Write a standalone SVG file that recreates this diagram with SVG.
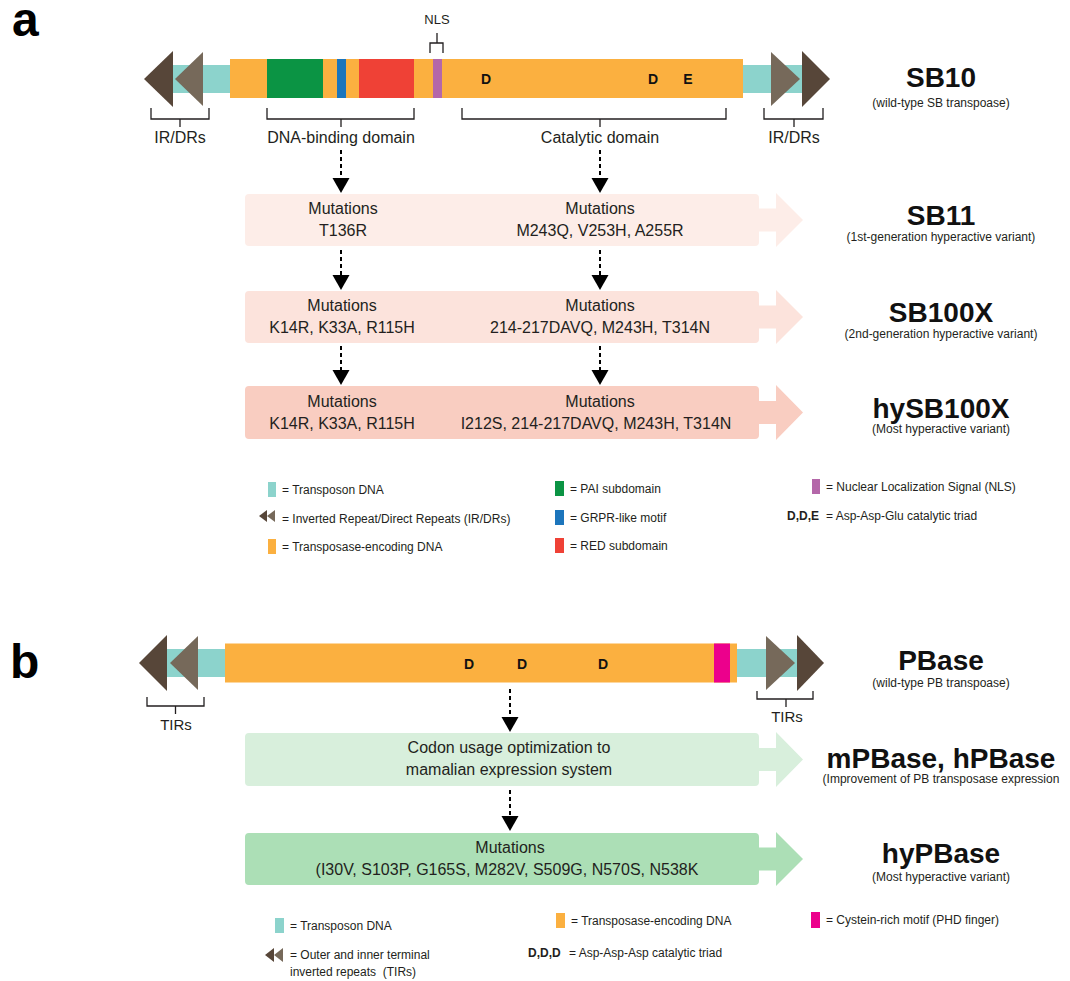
<svg xmlns="http://www.w3.org/2000/svg" width="1070" height="981" viewBox="0 0 1070 981">
<defs>
<style>
text{font-family:"Liberation Sans",Arial,sans-serif;fill:#231f20}
.lbl{font-size:16px;text-anchor:middle}
.big{font-size:28px;font-weight:bold;text-anchor:middle;fill:#111}
.sub{font-size:12px;text-anchor:middle}
.leg{font-size:12px}
.legb{font-size:12px}
.res{font-size:14px;font-weight:bold;text-anchor:middle;fill:#111}
.panel{font-size:48px;font-weight:bold;fill:#000}
.br{fill:none;stroke:#231f20;stroke-width:1.3}
.dash{stroke:#000;stroke-width:2;stroke-dasharray:4 3;fill:none}
.ird{fill:#574639}
.irl{fill:#76695a}
.teal{fill:#8cd3cc}
.orange{fill:#fbb040}
</style>
<polygon id="ah" points="-8.5,0 8.5,0 0,15" fill="#000"/>
</defs>
<rect width="1070" height="981" fill="#fff"/>

<text class="panel" x="12" y="36">a</text>
<text class="panel" x="10" y="678">b</text>

<!-- SB10 bar -->
<g id="sb10-bar">
<rect class="teal" x="170" y="65" width="60" height="28"/>
<rect class="teal" x="743" y="65" width="60" height="28"/>
<rect class="orange" x="230" y="59" width="513" height="39"/>
<rect x="267" y="59" width="56" height="39" fill="#0b9444"/>
<rect x="337" y="59" width="9" height="39" fill="#1c75bc"/>
<rect x="359" y="59" width="55" height="39" fill="#ef4136"/>
<rect x="433" y="59" width="9" height="39" fill="#b467a9"/>
<polygon class="ird" points="144,79 173,51 173,107"/>
<polygon class="irl" points="175,79 203,52 203,106"/>
<polygon class="irl" points="771,52 800,79 771,106"/>
<polygon class="ird" points="802,51 830,79 802,107"/>
<text class="res" x="486" y="84">D</text>
<text class="res" x="653" y="84">D</text>
<text class="res" x="688" y="84">E</text>
<path class="br" d="M151,108 V119 H209 V108 M180,119 V127 M267,108 V119 H414 V108 M341,119 V127 M462,108 V119 H726 V108 M600,119 V127 M764,108 V119 H823 V108 M794,119 V127 M430,53 V43 H443 V53 M437,43 V33"/>
<text class="lbl" x="437" y="24" style="font-size:13px">NLS</text>
<text class="lbl" x="180" y="143">IR/DRs</text>
<text class="lbl" x="341" y="143">DNA-binding domain</text>
<text class="lbl" x="600" y="143">Catalytic domain</text>
<text class="lbl" x="794" y="143">IR/DRs</text>
</g>
<g id="sb10-label">
<text class="big" x="941" y="87">SB10</text>
<text class="sub" x="941" y="107">(wild-type SB transpoase)</text>
</g>

<g id="sb11">
<path fill="#fdede8" d="M249,194 H755 Q759,194 759,198 V208.5 H776 V193 L803,220 L776,247 V231.5 H759 V242 Q759,246 755,246 H249 Q245,246 245,242 V198 Q245,194 249,194 Z"/>
<text class="lbl" x="343" y="214">Mutations</text>
<text class="lbl" x="343" y="236">T136R</text>
<text class="lbl" x="600" y="214">Mutations</text>
<text class="lbl" x="600" y="236">M243Q, V253H, A255R</text>
<text class="big" x="941" y="225">SB11</text>
<text class="sub" x="941" y="241">(1st-generation hyperactive variant)</text>
</g>

<g id="sb100x">
<path fill="#fce3dc" d="M249,291 H755 Q759,291 759,295 V305.5 H776 V290 L803,317 L776,344 V328.5 H759 V339 Q759,343 755,343 H249 Q245,343 245,339 V295 Q245,291 249,291 Z"/>
<text class="lbl" x="342" y="311">Mutations</text>
<text class="lbl" x="342" y="333">K14R, K33A, R115H</text>
<text class="lbl" x="600" y="311">Mutations</text>
<text class="lbl" x="600" y="333">214-217DAVQ, M243H, T314N</text>
<text class="big" x="941" y="322">SB100X</text>
<text class="sub" x="941" y="338">(2nd-generation hyperactive variant)</text>
</g>

<g id="hysb100x">
<path fill="#f9cdc1" d="M249,386 H755 Q759,386 759,390 V401 H776 V385 L803,412.5 L776,440 V424 H759 V435 Q759,439 755,439 H249 Q245,439 245,435 V390 Q245,386 249,386 Z"/>
<text class="lbl" x="342" y="407">Mutations</text>
<text class="lbl" x="342" y="429">K14R, K33A, R115H</text>
<text class="lbl" x="600" y="407">Mutations</text>
<text class="lbl" x="596" y="429">I212S, 214-217DAVQ, M243H, T314N</text>
<text class="big" x="941" y="418">hySB100X</text>
<text class="sub" x="941" y="433">(Most hyperactive variant)</text>
</g>

<!-- PBase bar -->
<g id="pbase-bar">
<rect class="teal" x="166" y="649" width="60" height="28"/>
<rect class="teal" x="737" y="649" width="63" height="28"/>
<rect class="orange" x="225" y="643.5" width="512" height="39"/>
<rect x="714" y="643.5" width="16" height="39" fill="#ec008c"/>
<polygon class="ird" points="139,663 167,635 167,691"/>
<polygon class="irl" points="170,663 198,636 198,690"/>
<polygon class="irl" points="766,636 795,663 766,690"/>
<polygon class="ird" points="797,635 824,663 797,691"/>
<text class="res" x="469" y="669">D</text>
<text class="res" x="522" y="669">D</text>
<text class="res" x="603" y="669">D</text>
<path class="br" d="M147,697 V706 H204 V697 M175.5,706 V714 M757,691 V699 H813 V691 M786,699 V707"/>
<text class="lbl" x="176" y="730" style="font-size:15px">TIRs</text>
<text class="lbl" x="787" y="722" style="font-size:15px">TIRs</text>
</g>
<g id="pbase-label">
<text class="big" x="941" y="670">PBase</text>
<text class="sub" x="941" y="687">(wild-type PB transpoase)</text>
</g>

<g id="mpbase">
<path fill="#d8efdc" d="M249,733 H755 Q759,733 759,737 V748 H776 V732 L803,759.5 L776,787 V771 H759 V782 Q759,786 755,786 H249 Q245,786 245,782 V737 Q245,733 249,733 Z"/>
<text class="lbl" x="509" y="753">Codon usage optimization to</text>
<text class="lbl" x="509" y="775">mamalian expression system</text>
<text class="big" x="941" y="768">mPBase, hPBase</text>
<text class="sub" x="941" y="783">(Improvement of PB transposase expression</text>
</g>

<g id="hypbase">
<path fill="#acdfb6" d="M249,833 H755 Q759,833 759,837 V847.5 H776 V832 L803,859 L776,886 V870.5 H759 V881 Q759,885 755,885 H249 Q245,885 245,881 V837 Q245,833 249,833 Z"/>
<text class="lbl" x="510" y="853">Mutations</text>
<text class="lbl" x="507" y="875">(I30V, S103P, G165S, M282V, S509G, N570S, N538K</text>
<text class="big" x="941" y="863">hyPBase</text>
<text class="sub" x="941" y="881">(Most hyperactive variant)</text>
</g>

<g id="connectors">
<path class="dash" d="M341,150 V178 M600,150 V178 M341,250 V275 M600,250 V275 M341,346 V370 M600,346 V370 M510,689 V717 M510,790 V816"/>
<use href="#ah" x="341" y="178"/>
<use href="#ah" x="600" y="178"/>
<use href="#ah" x="341" y="275"/>
<use href="#ah" x="600" y="275"/>
<use href="#ah" x="341" y="370"/>
<use href="#ah" x="600" y="370"/>
<use href="#ah" x="510" y="717"/>
<use href="#ah" x="510" y="816"/>
</g>

<g id="legend-a">
<rect class="teal" x="268" y="482" width="8" height="15"/>
<text class="leg" x="282" y="494">= Transposon DNA</text>
<polygon class="ird" points="259,516 267,510 267,522"/>
<polygon class="irl" points="267,516 275,510 275,522"/>
<text class="leg" x="282" y="523">= Inverted Repeat/Direct Repeats (IR/DRs)</text>
<rect class="orange" x="268" y="539" width="8" height="15"/>
<text class="leg" x="282" y="551">= Transposase-encoding DNA</text>
<rect x="555" y="481" width="9" height="15" fill="#0b9444"/>
<text class="leg" x="570" y="493">= PAI subdomain</text>
<rect x="555" y="510" width="9" height="15" fill="#1c75bc"/>
<text class="leg" x="570" y="522">= GRPR-like motif</text>
<rect x="555" y="538" width="9" height="15" fill="#ef4136"/>
<text class="leg" x="570" y="550">= RED subdomain</text>
<rect x="812" y="479" width="8" height="15" fill="#b467a9"/>
<text class="leg" x="826" y="491">= Nuclear Localization Signal (NLS)</text>
<text class="leg" x="787" y="520" style="font-weight:bold">D,D,E</text>
<text class="leg" x="826" y="520">= Asp-Asp-Glu catalytic triad</text>
</g>

<g id="legend-b">
<rect class="teal" x="275" y="918" width="9" height="15"/>
<text class="legb" x="290" y="930">= Transposon DNA</text>
<polygon class="ird" points="265,955 274,948 274,962"/>
<polygon class="irl" points="274,955 283,948 283,962"/>
<text class="legb" x="290" y="959">= Outer and inner terminal</text>
<text class="legb" x="290" y="976">inverted repeats &#160;(TIRs)</text>
<rect class="orange" x="556" y="913" width="9" height="15"/>
<text class="legb" x="571" y="925">= Transposase-encoding DNA</text>
<text class="legb" x="528" y="957" style="font-weight:bold">D,D,D</text>
<text class="legb" x="569" y="957">= Asp-Asp-Asp catalytic triad</text>
<rect x="811" y="912" width="9" height="16" fill="#ec008c"/>
<text class="legb" x="826" y="924">= Cystein-rich motif (PHD finger)</text>
</g>
</svg>
